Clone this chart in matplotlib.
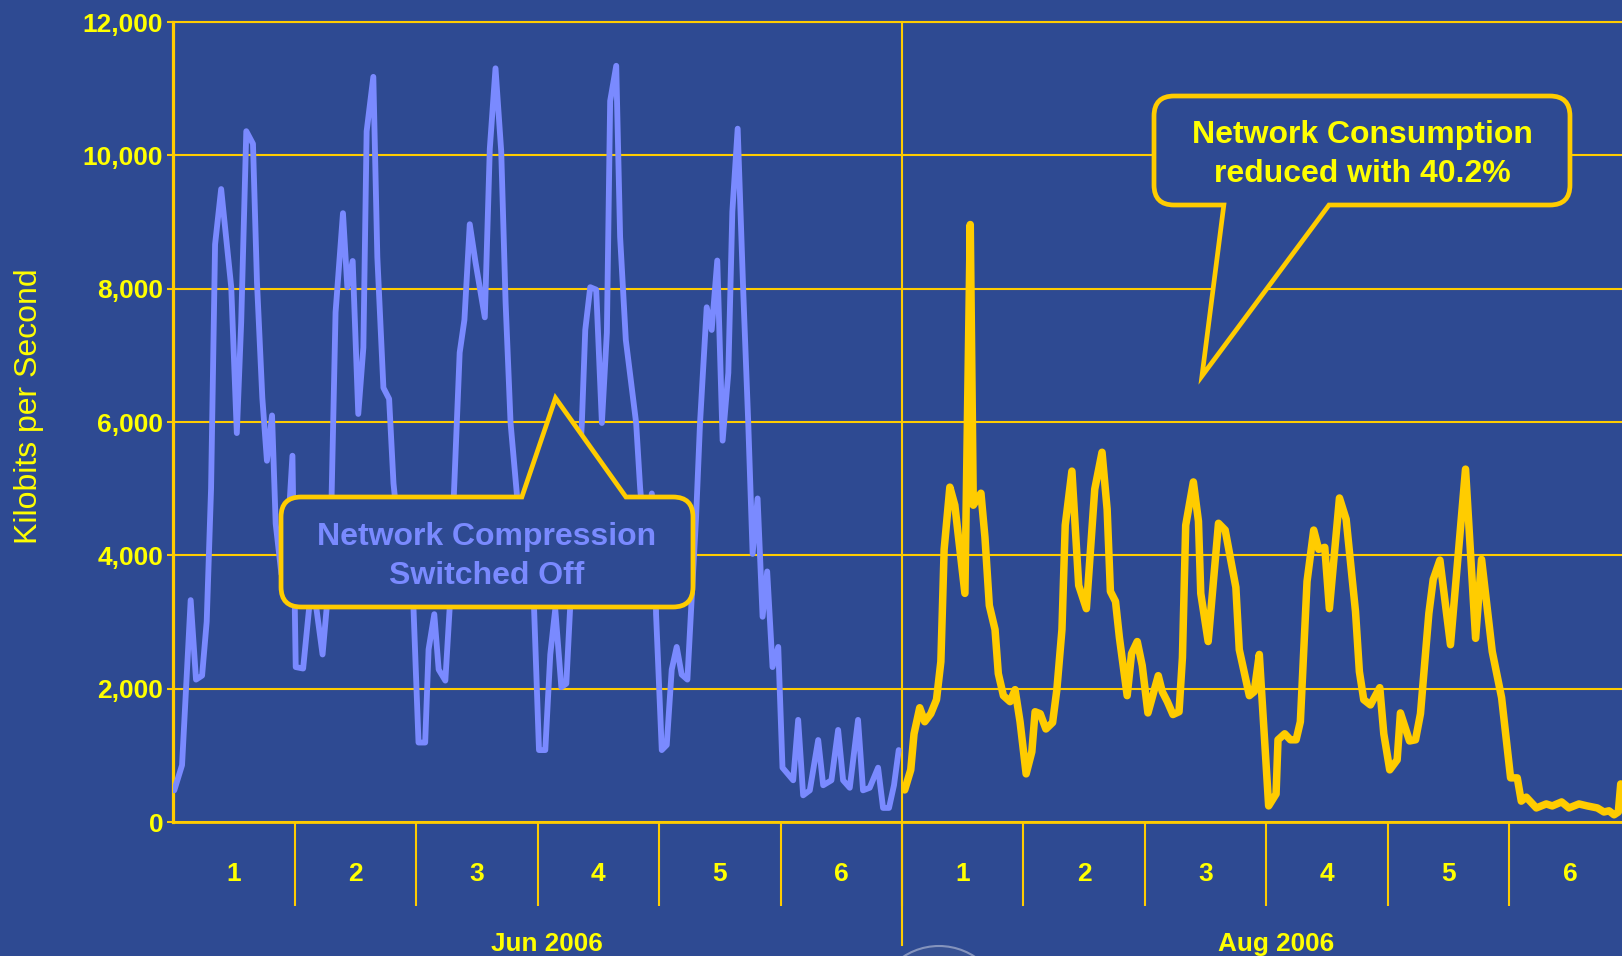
import matplotlib
matplotlib.use('Agg')
import matplotlib.pyplot as plt
import numpy as np
from matplotlib.path import Path
from matplotlib.patches import PathPatch, Circle
from matplotlib.transforms import offset_copy

# hourly network throughput, x = fractional day of the period, y = kbit/s
jun_day = [0.008, 0.072, 0.143, 0.187, 0.237, 0.275, 0.311, 0.344, 0.394, 0.477,
           0.523, 0.559, 0.601, 0.656, 0.689, 0.733, 0.771, 0.813, 0.843, 0.890,
           0.937, 0.981, 1.008, 1.069, 1.138, 1.179, 1.229, 1.262, 1.295, 1.336,
           1.397, 1.433, 1.477, 1.523, 1.565, 1.592, 1.647, 1.680, 1.730, 1.777,
           1.813, 1.868, 1.937, 1.978, 2.019, 2.074, 2.102, 2.149, 2.185, 2.240,
           2.275, 2.295, 2.309, 2.358, 2.397, 2.441, 2.488, 2.565, 2.606, 2.653,
           2.700, 2.736, 2.777, 2.832, 2.887, 2.956, 2.970, 3.011, 3.063, 3.104,
           3.145, 3.195, 3.236, 3.268, 3.310, 3.364, 3.392, 3.433, 3.482, 3.529,
           3.570, 3.597, 3.647, 3.679, 3.726, 3.811, 3.844, 3.885, 3.940, 3.967,
           3.975, 4.022, 4.063, 4.104, 4.145, 4.186, 4.233, 4.268, 4.304, 4.337,
           4.392, 4.433, 4.479, 4.523, 4.570, 4.603, 4.647, 4.693, 4.734, 4.770,
           4.811, 4.852, 4.890, 4.934, 4.981, 5.016, 5.104, 5.145, 5.186, 5.241,
           5.310, 5.351, 5.419, 5.474, 5.515, 5.570, 5.638, 5.679, 5.734, 5.803,
           5.844, 5.893, 5.934, 5.973]
jun_kbps = [475, 853, 3328, 2136, 2196, 3004, 5004, 8664, 9494, 8022,
            5834, 7494, 10362, 10173, 8098, 6362, 5419, 6098, 4475, 3720,
            4170, 5494, 2324, 2302, 3570, 3192, 2513, 3192, 4173, 7645,
            9132, 8022, 8415, 6121, 7117, 10362, 11177, 8475, 6513, 6347,
            5079, 4098, 3720, 3192, 1192, 1192, 2589, 3117, 2287, 2121,
            3192, 4173, 4853, 7041, 7532, 8966, 8400, 7570, 10098, 11305,
            10060, 7796, 5985, 4853, 4173, 3570, 3230, 1079, 1079, 2513,
            3192, 2023, 2075, 3230, 4173, 5985, 7381, 8022, 7985, 5985,
            7343, 10815, 11343, 8777, 7230, 5985, 5004, 4173, 4928, 4173,
            3117, 1079, 1155, 2287, 2626, 2211, 2136, 3343, 4551, 5985,
            7721, 7381, 8422, 5721, 6739, 9154, 10400, 7947, 5985, 4022,
            4853, 3079, 3758, 2324, 2626, 815, 626, 1532, 400, 475,
            1230, 551, 626, 1381, 626, 513, 1532, 475, 513, 815,
            211, 211, 551, 1079]

aug_day = [0.022, 0.072, 0.099, 0.146, 0.187, 0.237, 0.284, 0.320, 0.347, 0.394,
           0.435, 0.518, 0.562, 0.587, 0.650, 0.683, 0.719, 0.766, 0.793, 0.835,
           0.890, 0.931, 0.972, 1.022, 1.069, 1.096, 1.138, 1.185, 1.240, 1.275,
           1.317, 1.344, 1.399, 1.455, 1.518, 1.587, 1.647, 1.689, 1.716, 1.758,
           1.790, 1.854, 1.890, 1.937, 1.978, 2.025, 2.110, 2.143, 2.185, 2.231,
           2.281, 2.309, 2.336, 2.399, 2.441, 2.460, 2.521, 2.606, 2.661, 2.749,
           2.777, 2.860, 2.900, 2.942, 3.019, 3.080, 3.096, 3.151, 3.198, 3.245,
           3.280, 3.335, 3.390, 3.431, 3.481, 3.519, 3.602, 3.657, 3.734, 3.766,
           3.802, 3.857, 3.934, 3.967, 4.016, 4.077, 4.104, 4.179, 4.228, 4.269,
           4.338, 4.374, 4.429, 4.516, 4.640, 4.723, 4.772, 4.860, 4.937, 5.011,
           5.066, 5.099, 5.140, 5.223, 5.305, 5.354, 5.431, 5.492, 5.574, 5.643,
           5.725, 5.780, 5.821, 5.863, 5.898, 5.918]
aug_kbps = [481, 782, 1323, 1714, 1504, 1624, 1835, 2406, 4090, 5023,
            4752, 3429, 8962, 4752, 4932, 4271, 3248, 2887, 2226, 1895,
            1805, 1985, 1504, 722, 1053, 1654, 1624, 1395, 1492, 1985,
            2887, 4451, 5263, 3549, 3200, 4992, 5546, 4692, 3459, 3308,
            2767, 1895, 2526, 2707, 2346, 1636, 2195, 1955, 1805, 1612,
            1654, 2466, 4451, 5101, 4511, 3429, 2707, 4481, 4379, 3519,
            2586, 1895, 1955, 2514, 241, 421, 1233, 1323, 1233, 1233,
            1504, 3609, 4379, 4090, 4120, 3200, 4860, 4541, 3158, 2256,
            1835, 1756, 2015, 1323, 782, 932, 1636, 1215, 1233, 1624,
            3128, 3639, 3928, 2659, 5293, 2755, 3940, 2556, 1865, 662,
            662, 313, 373, 211, 271, 241, 301, 211, 271, 241,
            211, 150, 168, 108, 150, 571]

day_labels = ['1', '2', '3', '4', '5', '6']
month_labels = ['Jun 2006', 'Aug 2006']
y_ticks = [0, 2000, 4000, 6000, 8000, 10000, 12000]

BG = '#2E4A92'
GOLD = '#FFCC00'
TXT = '#FFFF00'
BLUE = '#7A8AFF'

plt.rcParams['font.family'] = ['Liberation Sans', 'DejaVu Sans']

W, H = 1622, 956
fig = plt.figure(figsize=(W / 100, H / 100), dpi=100, facecolor=BG)
ax = fig.add_axes([173.3 / W, 134 / H, 1457.4 / W, 800 / H])
ax.set_facecolor(BG)
ax.set_xlim(0, 12)
ax.set_ylim(0, 12000)

ax.plot(jun_day, jun_kbps, color=BLUE, lw=4.2, solid_joinstyle='round',
        solid_capstyle='round', zorder=3)
ax.plot(np.array(aug_day) + 6, aug_kbps, color=GOLD, lw=5.4,
        solid_joinstyle='round', solid_capstyle='round', zorder=3)

# y axis
ax.set_yticks(y_ticks)
ax.set_yticklabels([f'{v:,}' for v in y_ticks])
ax.yaxis.grid(True, color=GOLD, lw=1.5)
ax.set_axisbelow(True)
ax.tick_params(axis='y', colors=GOLD, length=4.3, width=1.5, pad=3,
               labelcolor=TXT, labelsize=19)
ax.set_ylabel('Kilobits per Second', color=TXT, fontsize=23)
ax.yaxis.set_label_coords(-0.089, 0.52)

# x axis: separators between days, day numbers centred in each slot
ax.set_xticks(np.arange(1, 12))
ax.set_xticklabels([])
ax.set_xticks(np.arange(0.5, 12, 1), minor=True)
ax.set_xticklabels(day_labels * 2, minor=True)
ax.tick_params(axis='x', which='major', colors=GOLD, length=60.5, width=1.5)
ax.tick_params(axis='x', which='minor', length=0, pad=29, labelcolor=TXT,
               labelsize=19)
for lab in ax.get_xticklabels(minor=True) + ax.get_yticklabels():
    lab.set_fontweight('bold')

xt = ax.get_xaxis_transform()
ax.plot([6, 6], [1, -0.154], transform=xt, color=GOLD, lw=1.5, clip_on=False)
for x, name in zip([3.08, 9.08], month_labels):
    ax.text(x, -0.153, name, transform=xt, ha='center', va='center',
            color=TXT, fontsize=18.8, fontweight='bold')

ax.spines['right'].set_visible(False)
ax.spines['top'].set_color(GOLD)
ax.spines['top'].set_linewidth(1.5)
ax.spines['left'].set_color(GOLD)
ax.spines['left'].set_linewidth(2.3)
ax.spines['bottom'].set_color(GOLD)
ax.spines['bottom'].set_linewidth(2.0)

text_tr = offset_copy(ax.transData, fig=fig, y=-3, units='points')


def callout(box, pointer, text, color, radius=20):
    """Rounded box with a wedge pointer on its top or bottom edge."""
    (x0, y0), (x1, y1) = ax.transData.transform([(box[0], box[2]), (box[1], box[3])])
    x0, x1 = sorted((x0, x1))
    y0, y1 = sorted((y0, y1))
    p = ax.transData.transform(pointer)
    r = radius
    on_top = p[1][1] > y1
    V = [(x0 + r, y0)]
    C = [Path.MOVETO]
    if not on_top:
        V += [(p[0][0], y0), tuple(p[1]), (p[2][0], y0)]
        C += [Path.LINETO] * 3
    V += [(x1 - r, y0), (x1, y0), (x1, y0 + r), (x1, y1 - r), (x1, y1), (x1 - r, y1)]
    C += [Path.LINETO, Path.CURVE3, Path.CURVE3, Path.LINETO, Path.CURVE3, Path.CURVE3]
    if on_top:
        V += [(p[2][0], y1), tuple(p[1]), (p[0][0], y1)]
        C += [Path.LINETO] * 3
    V += [(x0 + r, y1), (x0, y1), (x0, y1 - r), (x0, y0 + r), (x0, y0), (x0 + r, y0), (x0 + r, y0)]
    C += [Path.LINETO, Path.CURVE3, Path.CURVE3, Path.LINETO, Path.CURVE3, Path.CURVE3,
          Path.CLOSEPOLY]
    V = fig.transFigure.inverted().transform(V)
    patch = PathPatch(Path(V, C), facecolor=BG, edgecolor=GOLD, lw=3.4,
                      joinstyle='miter', transform=fig.transFigure, zorder=5,
                      clip_on=False)
    ax.add_patch(patch)
    ax.text((box[0] + box[1]) / 2, (box[2] + box[3]) / 2, text, ha='center',
            va='center', color=color, fontsize=23, fontweight='bold',
            linespacing=1.38, zorder=6, transform=text_tr)


callout((0.887, 4.279, 3225, 4875), [(2.870, 4875), (3.147, 6360), (3.727, 4875)],
        'Network Compression\nSwitched Off', BLUE)
callout((8.075, 11.50, 9255, 10890), [(8.650, 9255), (8.470, 6690), (9.516, 9255)],
        'Network Consumption\nreduced with 40.2%', TXT)

# faint logo peeking in at the bottom edge
fig.add_artist(Circle((9.39, -0.55), 0.65, transform=fig.dpi_scale_trans,
                      facecolor='#3A5494', edgecolor='#9AA6C8', lw=1.5, alpha=0.8))

fig.savefig('out.png', dpi=100, facecolor=BG)
